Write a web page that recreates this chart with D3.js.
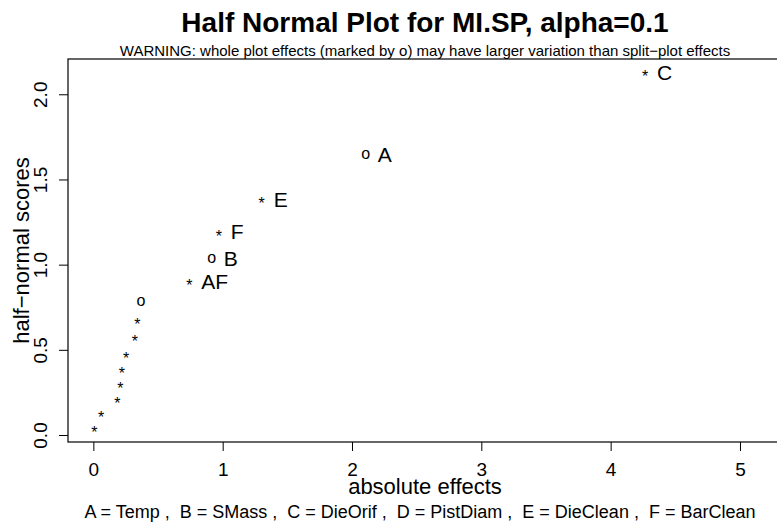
<!DOCTYPE html>
<html>
<head>
<meta charset="utf-8">
<script src="https://cdn.jsdelivr.net/npm/d3@7"></script>
<style>
  html, body { margin: 0; padding: 0; background: #fff; }
  svg { display: block; }
  text { font-family: "Liberation Sans", Arial, Helvetica, sans-serif; fill: #000; white-space: pre; }
</style>
</head>
<body>
<div id="chart"></div>
<script>
// Half-normal plot data: absolute effects vs half-normal scores.
var effectNames = ["", "", "", "", "", "", "", "", "", "AF", "B", "F", "E", "A", "C"];
var absEffects = [0.008, 0.06, 0.186, 0.209, 0.22, 0.253, 0.322, 0.34, 0.369, 0.742, 0.915, 0.970, 1.302, 2.106, 4.266];
var hnScores = [0.042, 0.126, 0.210, 0.297, 0.385, 0.476, 0.573, 0.675, 0.784, 0.903, 1.036, 1.192, 1.383, 1.645, 2.128];
// "o" = whole plot effect, "*" = split-plot effect
var markers = ["*", "*", "*", "*", "*", "*", "*", "*", "o", "*", "o", "*", "*", "o", "*"];

var xTicks = [0, 1, 2, 3, 4, 5];
var yTicks = [0, 0.5, 1, 1.5, 2];

var titleText = "Half Normal Plot for MI.SP, alpha=0.1";
var warningText = "WARNING: whole plot effects (marked by o) may have larger variation than split\u2212plot effects";
var xLabel = "absolute effects";
var yLabel = "half\u2212normal scores";
var legendText = "A = Temp ,  B = SMass ,  C = DieOrif ,  D = PistDiam ,  E = DieClean ,  F = BarClean";

(function () {
  "use strict";

  var width = 777, height = 526;
  var plot = { left: 68, top: 59, right: 782, bottom: 442 };
  var midX = (plot.left + plot.right) / 2;

  var svg = d3.select("#chart").append("svg")
    .attr("width", width)
    .attr("height", height);

  var x = d3.scaleLinear().domain([-0.196, 5.325]).range([plot.left, plot.right]);
  var y = d3.scaleLinear().domain([-0.041, 2.207]).range([plot.bottom, plot.top]);

  // Plot box (right side runs off the canvas, as in the original).
  svg.append("rect")
    .attr("x", plot.left)
    .attr("y", plot.top)
    .attr("width", plot.right - plot.left)
    .attr("height", plot.bottom - plot.top)
    .attr("fill", "none")
    .attr("stroke", "#000")
    .attr("stroke-width", 1.2);

  // X axis.
  var xAxis = svg.append("g")
    .attr("transform", "translate(0," + plot.bottom + ")")
    .call(d3.axisBottom(x).tickValues(xTicks).tickSize(9).tickPadding(12).tickFormat(d3.format("d")));
  xAxis.select(".domain").remove();
  xAxis.selectAll("line").attr("stroke", "#000").attr("stroke-width", 1);
  xAxis.selectAll("text")
    .attr("font-size", "19px")
    .attr("font-family", null);

  // Y axis with rotated labels.
  var yAxis = svg.append("g")
    .attr("transform", "translate(" + plot.left + ",0)")
    .call(d3.axisLeft(y).tickValues(yTicks).tickSize(9).tickFormat(d3.format(".1f")));
  yAxis.select(".domain").remove();
  yAxis.selectAll("line").attr("stroke", "#000").attr("stroke-width", 1);
  yAxis.selectAll("text")
    .attr("font-size", "19px")
    .attr("font-family", null)
    .attr("text-anchor", "middle")
    .attr("x", 0)
    .attr("y", -28)
    .attr("dy", "0.35em")
    .attr("transform", "rotate(-90)");

  // Titles and labels.
  svg.append("text")
    .attr("x", midX).attr("y", 32)
    .attr("text-anchor", "middle")
    .attr("font-size", "28px")
    .attr("font-weight", "bold")
    .text(titleText);

  svg.append("text")
    .attr("x", midX).attr("y", 56)
    .attr("text-anchor", "middle")
    .attr("font-size", "15px")
    .text(warningText);

  svg.append("text")
    .attr("x", midX).attr("y", 494)
    .attr("text-anchor", "middle")
    .attr("font-size", "22px")
    .text(xLabel);

  svg.append("text")
    .attr("transform", "translate(29," + ((plot.top + plot.bottom) / 2) + ") rotate(-90)")
    .attr("text-anchor", "middle")
    .attr("font-size", "22px")
    .text(yLabel);

  svg.append("text")
    .attr("x", midX - 5).attr("y", 518)
    .attr("text-anchor", "middle")
    .attr("font-size", "18px")
    .text(legendText);

  // Points.
  var pts = absEffects.map(function (v, i) {
    return { x: v, y: hnScores[i], m: markers[i], name: effectNames[i] };
  });

  var g = svg.append("g").attr("class", "points");
  g.selectAll("text.mark")
    .data(pts).enter().append("text")
    .attr("class", "mark")
    .attr("x", function (d) { return x(d.x); })
    .attr("y", function (d) { return y(d.y); })
    .attr("text-anchor", "middle")
    .attr("font-size", "16px")
    .attr("dy", function (d) { return d.m === "*" ? "0.62em" : "0.27em"; })
    .text(function (d) { return d.m; });

  g.selectAll("text.lab")
    .data(pts.filter(function (d) { return d.name; })).enter().append("text")
    .attr("class", "lab")
    .attr("x", function (d) { return x(d.x) + 12; })
    .attr("y", function (d) { return y(d.y); })
    .attr("dy", "0.36em")
    .attr("font-size", "21px")
    .text(function (d) { return d.name; });
})();
</script>
</body>
</html>
